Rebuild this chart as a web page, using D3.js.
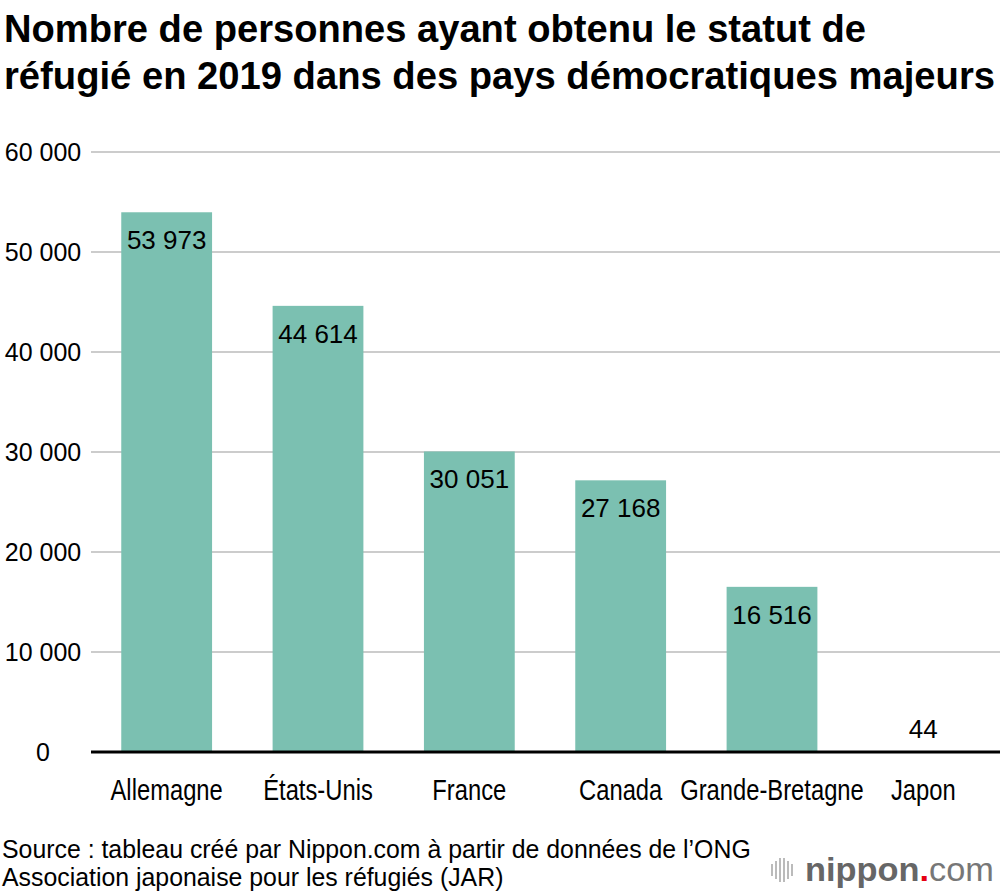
<!DOCTYPE html>
<html>
<head>
<meta charset="utf-8">
<script src="https://cdn.jsdelivr.net/npm/d3@7.9.0/dist/d3.min.js"></script>
<style>
  body { margin: 0; background: #fff; }
  svg { display: block; font-family: "Liberation Sans", Arial, sans-serif; }
</style>
</head>
<body>
<svg width="1000" height="896"></svg>
<script>
const countries = ["Allemagne", "États-Unis", "France", "Canada", "Grande-Bretagne", "Japon"];
const refugees = [53973, 44614, 30051, 27168, 16516, 44];
const yTicks = [0, 10000, 20000, 30000, 40000, 50000, 60000];

const svg = d3.select("svg");
const fmt = v => d3.format(",")(v).replace(/,/g, " ");

const x = d3.scaleBand()
  .domain(countries)
  .range([91, 999])
  .paddingInner(0.4)
  .paddingOuter(0.2);

const y = d3.scaleLinear()
  .domain([0, 60000])
  .range([752, 152]);

// condensed-looking text: squeeze horizontally
function narrowText(parent, tx, ty, size, sx, str, anchor) {
  return parent.append("g")
    .attr("transform", `translate(${tx},${ty}) scale(${sx},1)`)
    .append("text")
    .attr("font-size", size)
    .attr("text-anchor", anchor || "start")
    .attr("fill", "#000")
    .text(str);
}

// title
svg.append("text")
  .attr("x", 4).attr("y", 42)
  .attr("font-weight", "bold").attr("font-size", 38)
  .attr("textLength", 862).attr("lengthAdjust", "spacingAndGlyphs")
  .text("Nombre de personnes ayant obtenu le statut de");
svg.append("text")
  .attr("x", 4).attr("y", 89)
  .attr("font-weight", "bold").attr("font-size", 38)
  .attr("textLength", 991).attr("lengthAdjust", "spacingAndGlyphs")
  .text("réfugié en 2019 dans des pays démocratiques majeurs");

// gridlines
svg.append("g").selectAll("line")
  .data(yTicks.filter(d => d > 0))
  .join("line")
  .attr("x1", 91).attr("x2", 1000)
  .attr("y1", d => y(d)).attr("y2", d => y(d))
  .attr("stroke", "#cccccc")
  .attr("stroke-width", 2);

// y labels
svg.append("g").selectAll("text")
  .data(yTicks)
  .join("text")
  .attr("x", 43)
  .attr("y", d => y(d) + 9)
  .attr("text-anchor", "middle")
  .attr("font-size", 25)
  .attr("fill", "#000")
  .text(d => fmt(d));

// bars
svg.append("g").selectAll("rect")
  .data(refugees)
  .join("rect")
  .attr("x", (d, i) => x(countries[i]))
  .attr("y", d => y(d))
  .attr("width", x.bandwidth())
  .attr("height", d => y(0) - y(d))
  .attr("fill", "#7bc0b1");

// value labels
svg.append("g").selectAll("text")
  .data(refugees)
  .join("text")
  .attr("x", (d, i) => x(countries[i]) + x.bandwidth() / 2)
  .attr("y", d => (y(0) - y(d) > 40) ? y(d) + 37 : y(d) - 14)
  .attr("text-anchor", "middle")
  .attr("font-size", 26)
  .attr("fill", "#000")
  .text(d => fmt(d));

// baseline
svg.append("line")
  .attr("x1", 91).attr("x2", 1000)
  .attr("y1", y(0)).attr("y2", y(0))
  .attr("stroke", "#000")
  .attr("stroke-width", 3);

// x labels
const xl = svg.append("g");
countries.forEach(c => {
  narrowText(xl, x(c) + x.bandwidth() / 2, 800, 29, 0.82, c, "middle");
});

// source
narrowText(svg, 2, 858, 25.5, 0.975, "Source : tableau créé par Nippon.com à partir de données de l’ONG");
narrowText(svg, 2, 886, 25.5, 0.975, "Association japonaise pour les réfugiés (JAR)");

// logo
const logo = svg.append("g");
[12, 18, 24, 24, 18, 12].forEach((h, i) => {
  logo.append("rect")
    .attr("x", 771 + i * 4).attr("y", 870 - h / 2)
    .attr("width", 2).attr("height", h)
    .attr("fill", "#bbbbbb");
});
const lt = logo.append("text")
  .attr("x", 805).attr("y", 881)
  .attr("font-size", 34)
  .attr("textLength", 189).attr("lengthAdjust", "spacingAndGlyphs")
  .attr("fill", "#666");
lt.append("tspan").attr("font-weight", "bold").text("nippon");
lt.append("tspan").attr("fill", "#e60012").attr("font-weight", "bold").text(".");
lt.append("tspan").attr("font-weight", "normal").attr("fill", "#777").text("com");
</script>
</body>
</html>
